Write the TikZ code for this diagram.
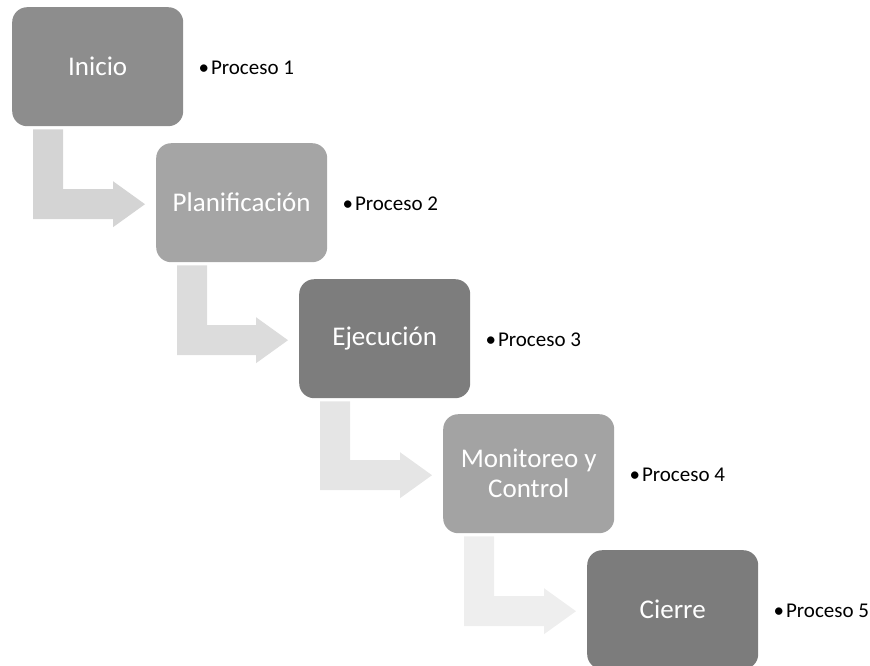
\documentclass[tikz,border=0pt]{standalone}
\usepackage{fontspec}
\setmainfont{Carlito}
\usetikzlibrary{calc}

\definecolor{boxA}{HTML}{8D8D8D}
\definecolor{boxB}{HTML}{A5A5A5}
\definecolor{boxC}{HTML}{7D7D7D}
\definecolor{boxD}{HTML}{A3A3A3}
\definecolor{boxE}{HTML}{7C7C7C}
\definecolor{arrA}{HTML}{D4D4D4}
\definecolor{arrB}{HTML}{DCDCDC}
\definecolor{arrC}{HTML}{E5E5E5}
\definecolor{arrD}{HTML}{EEEEEE}

\tikzset{
  phase/.style={rounded corners=15pt, minimum width=171pt, minimum height=119pt,
    inner sep=0pt, anchor=north west, text=white, align=center,
    font=\fontsize{27}{30}\selectfont},
  bullettext/.style={anchor=west, inner sep=0pt, text=black,
    font=\fontsize{21}{24}\selectfont},
}

% bent arrow from the bottom of one phase to the west side of the next
\newcommand{\bentarrow}[3]{%
  \fill[#3] let \p1=(#1.south west), \p2=(#2.west) in
    (\x1+21pt,\y1-3pt) -- (\x1+51pt,\y1-3pt)
    -- (\x1+51pt,\y2-1.5pt+15pt) -- (\x2-43pt,\y2-1.5pt+15pt)
    -- (\x2-43pt,\y2-1.5pt+23pt) -- (\x2-11pt,\y2-1.5pt)
    -- (\x2-43pt,\y2-1.5pt-23pt) -- (\x2-43pt,\y2-1.5pt-15pt)
    -- (\x1+21pt,\y2-1.5pt-15pt) -- cycle;}

\begin{document}
\begin{tikzpicture}[x=1pt,y=-1pt]
\useasboundingbox (0,0) rectangle (870,665);

\node[phase, fill=boxA] (p1) at (12,7) {Inicio};
\node[phase, fill=boxB] (p2) at (156,143) {Planificación};
\node[phase, fill=boxC] (p3) at (299,279) {Ejecución};
\node[phase, fill=boxD] (p4) at (443,414) {Monitoreo y\\Control};
\node[phase, fill=boxE] (p5) at (587,550) {Cierre};

\bentarrow{p1}{p2}{arrA}
\bentarrow{p2}{p3}{arrB}
\bentarrow{p3}{p4}{arrC}
\bentarrow{p4}{p5}{arrD}

\node[bullettext] (l1) at ([xshift=15pt,yshift=-1pt]p1.east) {•\kern2pt Proceso 1};
\node[bullettext] (l2) at ([xshift=15pt,yshift=-1pt]p2.east) {•\kern2pt Proceso 2};
\node[bullettext] (l3) at ([xshift=15pt,yshift=-1pt]p3.east) {•\kern2pt Proceso 3};
\node[bullettext] (l4) at ([xshift=15pt,yshift=-1pt]p4.east) {•\kern2pt Proceso 4};
\node[bullettext] (l5) at ([xshift=15pt,yshift=-1pt]p5.east) {•\kern2pt Proceso 5};
\end{tikzpicture}
\end{document}
